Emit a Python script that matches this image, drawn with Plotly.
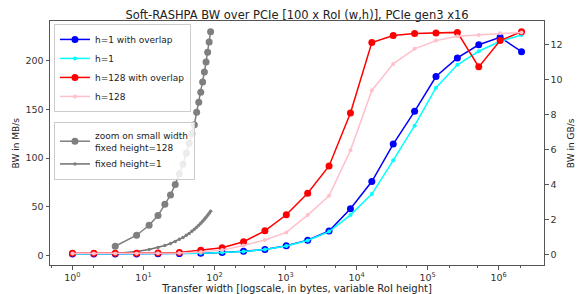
import plotly.graph_objects as go

# ---- data ----
transfer_width = [1, 2, 4, 8, 16, 32, 64, 128, 256, 512, 1024, 2048, 4096, 8192,
                  16384, 32768, 65536, 131072, 262144, 524288, 1048576, 2097152]

# GB/s (right axis)
h1_overlap = [0.02, 0.02, 0.02, 0.02, 0.03, 0.04, 0.06, 0.11, 0.17, 0.28, 0.49, 0.81,
              1.33, 2.60, 4.16, 6.30, 8.17, 10.16, 11.22, 11.97, 12.40, 11.58]
h1 = [0.02, 0.02, 0.02, 0.02, 0.03, 0.04, 0.06, 0.10, 0.16, 0.27, 0.47, 0.79,
      1.30, 2.24, 3.44, 5.37, 7.35, 9.52, 10.83, 11.60, 12.17, 12.53]
h128_overlap = [0.06, 0.06, 0.06, 0.06, 0.08, 0.11, 0.23, 0.38, 0.72, 1.34, 2.26, 3.49,
                5.05, 8.07, 12.10, 12.50, 12.61, 12.65, 12.68, 10.71, 12.21, 12.72]
h128 = [0.05, 0.05, 0.05, 0.05, 0.06, 0.08, 0.13, 0.25, 0.50, 0.82, 1.25, 2.24,
        3.34, 5.94, 9.36, 10.88, 11.74, 12.21, 12.46, 12.53, 12.63, 12.68]

# MB/s (left axis), zoom on small widths
small_width = [4, 8, 12, 16, 20, 24, 28, 32, 36, 40, 44, 48, 52, 56, 60, 64, 68, 72,
               76, 80, 84, 88]
zoom_h128 = [9.7, 21.0, 31.2, 41.1, 52.7, 62.2, 73.1, 84.0, 93.6, 105.1, 115.3, 124.9,
             134.2, 147.0, 157.3, 167.5, 178.0, 188.2, 198.5, 208.6, 219.0, 229.5]
zoom_h1 = [2.4, 4.3, 6.3, 8.4, 10.5, 12.5, 14.6, 16.8, 18.8, 20.9, 22.9, 25.0,
           27.1, 29.2, 31.2, 33.3, 35.3, 37.4, 39.5, 41.5, 43.6, 45.6]

x_tick_vals = [1, 10, 100, 1000, 10000, 100000, 1000000]
x_tick_text = ["10<sup>0</sup>", "10<sup>1</sup>", "10<sup>2</sup>", "10<sup>3</sup>",
               "10<sup>4</sup>", "10<sup>5</sup>", "10<sup>6</sup>"]

FONT = "DejaVu Sans"
fig = go.Figure()

# gray zoom series on left axis
fig.add_trace(go.Scatter(x=small_width, y=zoom_h128, mode="lines+markers",
                         name="zoom on small width<br>fixed height=128",
                         line=dict(color="#7f7f7f", width=1.5),
                         marker=dict(color="#7f7f7f", size=7), legend="legend2", yaxis="y"))
fig.add_trace(go.Scatter(x=small_width, y=zoom_h1, mode="lines+markers",
                         name="fixed height=1",
                         line=dict(color="#6f6f6f", width=1.5),
                         marker=dict(color="#7f7f7f", size=3.5), legend="legend2", yaxis="y"))

# main series on right axis
fig.add_trace(go.Scatter(x=transfer_width, y=h1_overlap, mode="lines+markers",
                         name="h=1 with overlap", line=dict(color="#0000ff", width=1.5),
                         marker=dict(color="#0000ff", size=7), yaxis="y2", legend="legend"))
fig.add_trace(go.Scatter(x=transfer_width, y=h1, mode="lines+markers",
                         name="h=1", line=dict(color="#00ffff", width=1.5),
                         marker=dict(color="#00ffff", size=4), yaxis="y2", legend="legend"))
fig.add_trace(go.Scatter(x=transfer_width, y=h128_overlap, mode="lines+markers",
                         name="h=128 with overlap", line=dict(color="#ff0000", width=1.5),
                         marker=dict(color="#ff0000", size=7), yaxis="y2", legend="legend"))
fig.add_trace(go.Scatter(x=transfer_width, y=h128, mode="lines+markers",
                         name="h=128", line=dict(color="#ffc0cb", width=1.5),
                         marker=dict(color="#ffc0cb", size=4), yaxis="y2", legend="legend"))

axis_common = dict(showline=True, linecolor="#555", linewidth=1, ticks="outside",
                   ticklen=3.5, tickcolor="#555", showgrid=False, zeroline=False,
                   automargin=False,
                   tickfont=dict(family=FONT, size=9.5, color="#333"))

fig.update_layout(
    width=580, height=294,
    margin=dict(l=50, r=36, t=21, b=29, autoexpand=False),
    paper_bgcolor="white", plot_bgcolor="white",
    font=dict(family=FONT, size=10, color="#222"),
    title=dict(text="Soft-RASHPA BW over PCIe [100 x RoI (w,h)], PCIe gen3 x16",
               x=0.5, xref="paper", y=0.962, yref="container", xanchor="center",
               automargin=False,
               font=dict(family=FONT, size=11.5, color="#222")),
    xaxis=dict(type="log", range=[-0.316, 6.638], tickvals=x_tick_vals,
               ticktext=x_tick_text, mirror=True,
               minor=dict(ticks="outside", ticklen=2, tickcolor="#555"),
               title=dict(text="Transfer width [logscale, in bytes, variable RoI height]",
                          font=dict(family=FONT, size=10, color="#222"), standoff=1),
               **axis_common),
    yaxis=dict(range=[-9.5, 240.5], tickvals=[0, 50, 100, 150, 200], **axis_common),
    yaxis2=dict(range=[-0.61, 13.33], overlaying="y", side="right",
                tickvals=[0, 2, 4, 6, 8, 10, 12], **axis_common),
    annotations=[
        dict(text="BW in MB/s", xref="paper", yref="paper", x=-0.068, y=0.5,
             textangle=-90, showarrow=False, xanchor="center", yanchor="middle",
             font=dict(family=FONT, size=9, color="#222")),
        dict(text="BW in GB/s", xref="paper", yref="paper", x=1.055, y=0.5,
             textangle=-90, showarrow=False, xanchor="center", yanchor="middle",
             font=dict(family=FONT, size=9, color="#222")),
    ],
    legend=dict(x=0.008, y=0.988, xanchor="left", yanchor="top",
                bordercolor="#cccccc", borderwidth=1, bgcolor="rgba(255,255,255,0.85)",
                font=dict(family=FONT, size=9, color="#222"), tracegroupgap=0,
                itemwidth=30),
    legend2=dict(x=0.008, y=0.586, xanchor="left", yanchor="top",
                 bordercolor="#cccccc", borderwidth=1, bgcolor="rgba(255,255,255,0.85)",
                 font=dict(family=FONT, size=9, color="#222"), tracegroupgap=0,
                 itemwidth=30),
    showlegend=True,
)

fig.write_html("out.html", config={"displayModeBar": False},
               post_script="document.body.style.margin='0';document.body.style.overflow='hidden';")
